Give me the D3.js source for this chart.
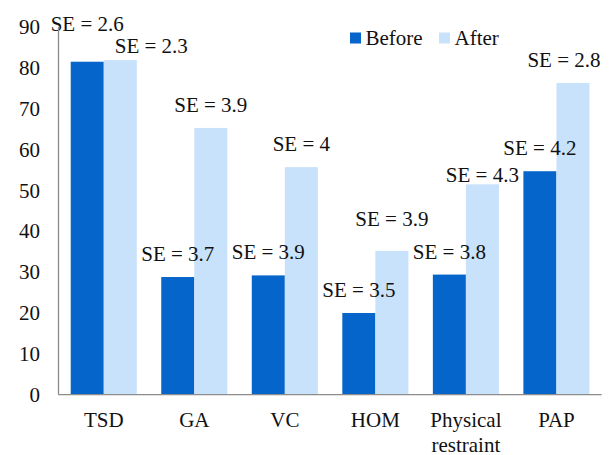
<!DOCTYPE html>
<html><head><meta charset="utf-8">
<script src="https://cdn.jsdelivr.net/npm/d3@7"></script>
<style>body{margin:0;background:#fff}svg{display:block}</style>
</head><body>
<svg id="c" width="612" height="455" style="font-family:'Liberation Serif','Times New Roman',serif"></svg>
<script>
const categories = ["TSD","GA","VC","HOM","Physical restraint","PAP"];
const seriesNames = ["Before","After"];
const before = [81.5, 28.8, 29.2, 20.0, 29.4, 54.7];
const after  = [81.9, 65.3, 55.7, 35.2, 51.5, 76.3];
const seBefore = ["2.6","3.7","3.9","3.5","3.8","4.2"];
const seAfter  = ["2.3","3.9","4","3.9","4.3","2.8"];
const yTicks = [0,10,20,30,40,50,60,70,80,90];
// label layout nudges (pixels) [dx, dy] relative to default placement
const nudgeBefore = [[0,-15],[0,0],[0,0],[0,0],[0,0],[0,0]];
const nudgeAfter  = [[31,9],[0,0],[0,0],[0,-9],[0,14],[-9,0]];

const FONT = "'Liberation Serif','Times New Roman',serif";
const colors = {Before:"#0565ca", After:"#c9e2fb"};
const svg = d3.select("#c");
const x0 = 58.5, x1 = 601.7, yb = 394.7, yt = 27;
const x = d3.scaleBand().domain(categories).range([x0,x1]).paddingInner(0.27).paddingOuter(0.135);
const xs = d3.scaleBand().domain(seriesNames).range([0,x.bandwidth()]);
const y = d3.scaleLinear().domain([0,90]).range([yb,yt]);

const data = categories.map((c,i)=>({c, vals:[
  {s:"Before", v:before[i], se:seBefore[i], n:nudgeBefore[i]},
  {s:"After", v:after[i], se:seAfter[i], n:nudgeAfter[i]}]}));

const g = svg.selectAll("g.cat").data(data).join("g").attr("class","cat")
  .attr("transform",d=>`translate(${x(d.c)},0)`);
g.selectAll("rect").data(d=>d.vals).join("rect")
  .attr("x",d=>xs(d.s)).attr("width",xs.bandwidth())
  .attr("y",d=>y(d.v)).attr("height",d=>yb-y(d.v))
  .attr("fill",d=>colors[d.s]);

// axes
svg.append("line").attr("x1",x0).attr("x2",x0).attr("y1",yt).attr("y2",yb).attr("stroke","#8c8c8c").attr("stroke-width",1.3);
svg.append("line").attr("x1",x0).attr("x2",x1).attr("y1",yb).attr("y2",yb).attr("stroke","#8c8c8c").attr("stroke-width",1.3);

function txt(sel){ return sel.style("font-family",FONT).attr("font-size",21).attr("fill","#111"); }

txt(svg.selectAll("text.yt").data(yTicks).join("text").attr("class","yt"))
  .attr("x",40).attr("y",d=>y(d)).attr("dy","0.34em").attr("text-anchor","end")
  .text(d=>d);

txt(svg.selectAll("text.xl").data(categories).join("text").attr("class","xl"))
  .attr("x",d=>x(d)+x.bandwidth()/2).attr("y",427).attr("text-anchor","middle")
  .each(function(d){
    const words = d.split(" ");
    d3.select(this).selectAll("tspan").data(words).join("tspan")
      .attr("x",x(d)+x.bandwidth()/2).attr("dy",(w,i)=>i?24.5:0).text(w=>w);
  });

// SE labels
txt(g.selectAll("text.se").data(d=>d.vals).join("text").attr("class","se"))
  .attr("x",d=>xs(d.s)+xs.bandwidth()/2+d.n[0])
  .attr("y",d=>y(d.v)-16+d.n[1])
  .attr("text-anchor","middle")
  .text(d=>"SE = "+d.se);

// legend
const leg = svg.append("g");
const lx = [350, 439];
seriesNames.forEach((s,i)=>{
  leg.append("rect").attr("x",lx[i]).attr("y",32.5).attr("width",11).attr("height",11).attr("fill",colors[s]);
  txt(leg.append("text")).attr("x",lx[i]+15.5).attr("y",44.5).text(s);
});
</script>
</body></html>
